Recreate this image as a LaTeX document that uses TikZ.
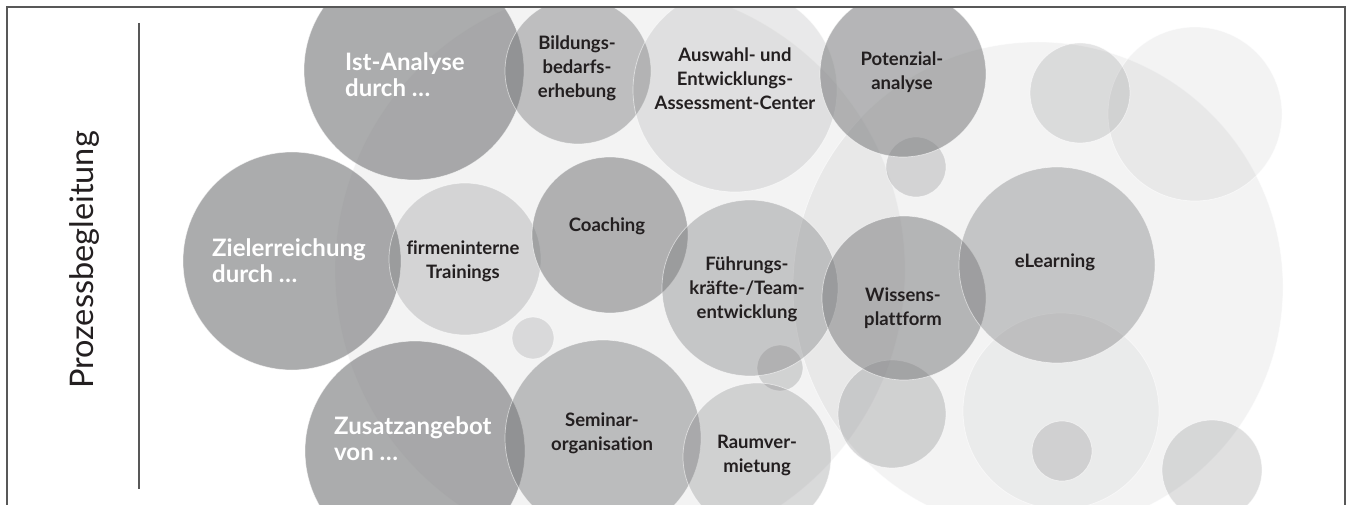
\documentclass[tikz,border=0pt]{standalone}
\usepackage{fontspec}
\setmainfont{Lato}[Ligatures=NoCommon]
\usepackage{tikz}
\definecolor{bubblegray}{RGB}{120,121,123}
\definecolor{labeldark}{RGB}{35,31,32}
\definecolor{framegray}{RGB}{88,88,88}
\tikzset{
    bubble/.style = {fill=bubblegray, fill opacity=#1, draw=white, draw opacity=0.55, line width=0.7pt},
    frame-line/.style = {draw=framegray, line width=1.5pt},
    lead-label/.style = {text=white, font=\bfseries\fontsize{24}{26}\selectfont, align=left, anchor=base west, inner sep=0pt},
    item-label/.style = {text=labeldark, font=\bfseries\fontsize{18.5}{24}\selectfont, align=center, anchor=base, inner sep=0pt},
}

\begin{document}
\begin{tikzpicture}[x=1pt, y=-1pt]
\useasboundingbox (0,0) rectangle (1352,505);

\begin{scope}
\clip (7,7) rectangle (1345,505);
% light background bubbles
\fill[bubble=0.09] (620,270) circle[radius=285];
\fill[bubble=0.09] (1038,287) circle[radius=245];
\fill[bubble=0.09] (1195,114) circle[radius=87];
\fill[bubble=0.20] (1080,93) circle[radius=50];
\fill[bubble=0.26] (916,167) circle[radius=30];
\fill[bubble=0.07] (1061,411) circle[radius=98];
\fill[bubble=0.23] (1062,451) circle[radius=30];
\fill[bubble=0.23] (1212,470) circle[radius=50];
\fill[bubble=0.28] (892,414) circle[radius=54];
\fill[bubble=0.27] (780,368) circle[radius=23];
\fill[bubble=0.21] (533,338) circle[radius=21];
% offer bubbles
\filldraw[bubble=0.62] (414,70) circle[radius=110];
\filldraw[bubble=0.43] (578,71) circle[radius=73];
\filldraw[bubble=0.16] (735,90) circle[radius=102];
\filldraw[bubble=0.55] (903,74) circle[radius=83];
\filldraw[bubble=0.62] (292,261) circle[radius=109];
\filldraw[bubble=0.25] (465,259) circle[radius=76];
\filldraw[bubble=0.55] (610,235) circle[radius=78];
\filldraw[bubble=0.37] (750,288) circle[radius=88];
\filldraw[bubble=0.51] (904,298) circle[radius=82];
\filldraw[bubble=0.38] (1057,265) circle[radius=98];
\filldraw[bubble=0.62] (415,451) circle[radius=110];
\filldraw[bubble=0.45] (603,438) circle[radius=98];
\filldraw[bubble=0.28] (757,457) circle[radius=74];
\end{scope}

\draw[frame-line] (7,505) -- (7,7) -- (1345,7) -- (1345,505);
\draw[frame-line] (139,23) -- (139,489);
\node[rotate=90, anchor=base, inner sep=0pt, font=\fontsize{32.5}{34}\selectfont, text=labeldark] (prozess) at (93,260) {Prozessbegleitung};

% the base anchor sits on the last line
\node[lead-label] (istanalyse) at (345,97) {Ist-Analyse\\durch …};
\node[lead-label] (zielerreichung) at (212,282) {Zielerreichung\\durch …};
\node[lead-label] (zusatzangebot) at (334,460) {Zusatzangebot\\von …};

\node[item-label] (bildung) at (577,98) {Bildungs-\\bedarfs-\\erhebung};
\node[item-label] (auswahl) at (735,110) {Auswahl- und\\Entwicklungs-\\Assessment-Center};
\node[item-label] (potenzial) at (902,90) {Potenzial-\\analyse};
\node[item-label] (training) at (463,278) {firmeninterne\\Trainings};
\node[item-label] (coaching) at (607,232) {Coaching};
\node[item-label] (fuehrung) at (747,318) {Führungs-\\kräfte-/Team-\\entwicklung};
\node[item-label] (wissen) at (903,325) {Wissens-\\plattform};
\node[item-label] (elearning) at (1055,267) {eLearning};
\node[item-label] (seminar) at (602,450) {Seminar-\\organisation};
\node[item-label] (raum) at (757,472) {Raumver-\\mietung};
\end{tikzpicture}
\end{document}
